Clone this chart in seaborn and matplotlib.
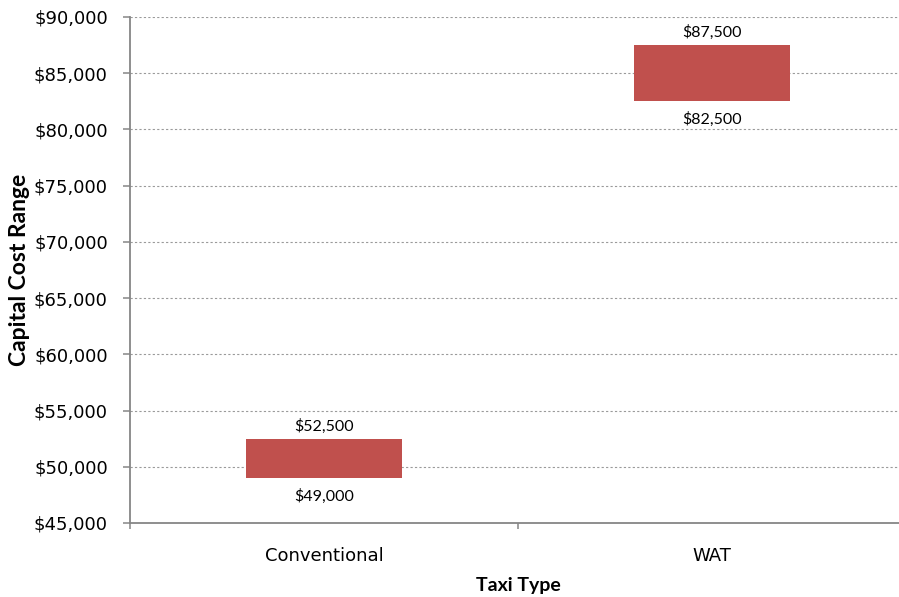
import matplotlib
matplotlib.use("Agg")
import matplotlib.pyplot as plt
from matplotlib.ticker import FuncFormatter, MultipleLocator, FixedLocator
import seaborn as sns
import pandas as pd

# Capital cost range per taxi type
taxi_types = ["Conventional", "WAT"]
cost_low = [49000, 82500]
cost_high = [52500, 87500]

df = pd.DataFrame({
    "type": taxi_types,
    "low": cost_low,
    "high": cost_high,
})
df["span"] = df["high"] - df["low"]

sns.set_theme(style="white")
plt.rcParams["font.family"] = ["DejaVu Sans"]
plt.rcParams["text.color"] = "black"
plt.rcParams["axes.labelcolor"] = "black"

fig = plt.figure(figsize=(8.99, 5.97), dpi=100)
ax = fig.add_axes([130 / 899, 1 - 523 / 597, 776 / 899, 506 / 597])

# floating bars: each bar starts at the low cost and spans to the high cost
sns.barplot(data=df, x="type", y="span", bottom=df["low"].values,
            width=0.4, color="#C0504D", saturation=1, ax=ax,
            edgecolor="none")

ax.set_ylim(45000, 90000)
ax.set_xlim(-0.5, 1.5)
ax.yaxis.set_major_locator(MultipleLocator(5000))
ax.yaxis.set_major_formatter(FuncFormatter(lambda v, p: f"${v:,.0f}"))
ax.grid(axis="y", color="#9a9a9a", linestyle=(0, (2, 2)), linewidth=0.8)
ax.set_axisbelow(True)

for s in ["top", "right"]:
    ax.spines[s].set_visible(False)
for s in ["left", "bottom"]:
    ax.spines[s].set_color("#868686")
    ax.spines[s].set_linewidth(1.3)

ax.tick_params(axis="y", left=True, length=5, width=1.1, color="#868686",
               labelsize=13, pad=11, labelcolor="black")
ax.xaxis.set_minor_locator(FixedLocator([-0.5, 0.5, 1.5]))
ax.tick_params(axis="x", which="major", length=0, pad=17, labelsize=13,
               labelcolor="black")
ax.tick_params(axis="x", which="minor", bottom=True, length=4, width=1.1,
               color="#868686")

ax.set_xlabel("Taxi Type", family="Lato", fontweight="bold", fontsize=14,
              labelpad=9)
ax.set_ylabel("Capital Cost Range", family="Lato", fontweight="bold",
              fontsize=16.5, labelpad=3)

for i, (lo, hi) in enumerate(zip(cost_low, cost_high)):
    ax.annotate(f"${hi:,.0f}", (i, hi), xytext=(0, 9), textcoords="offset points",
                ha="center", va="center", family="Lato", fontsize=11.5)
    ax.annotate(f"${lo:,.0f}", (i, lo), xytext=(0, -13), textcoords="offset points",
                ha="center", va="center", family="Lato", fontsize=11.5)

fig.savefig("out.png", dpi=100)
